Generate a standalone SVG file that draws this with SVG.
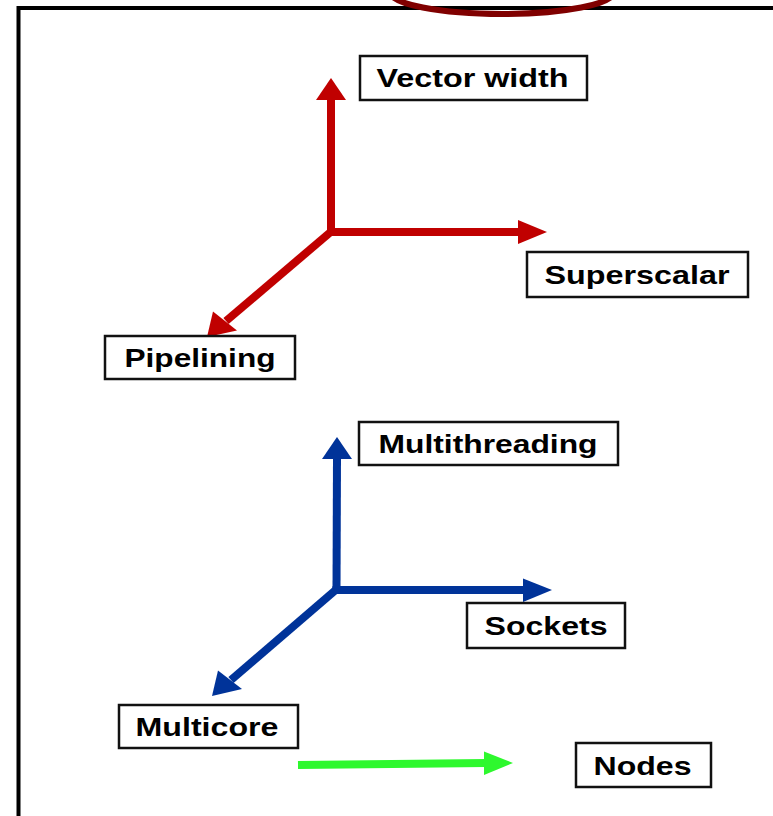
<svg xmlns="http://www.w3.org/2000/svg" width="773" height="816" viewBox="0 0 773 816">
  <style>
    .box { fill: #ffffff; stroke: #111111; stroke-width: 2.5; }
    .label { font-family: "Liberation Sans", Arial, Helvetica, sans-serif; font-weight: bold; font-size: 26px; fill: #000000; text-anchor: middle; }
    .red { stroke: #c00000; fill: none; stroke-width: 8; }
    .redhead { fill: #c00000; }
    .blue { stroke: #003399; fill: none; stroke-width: 8; }
    .bluehead { fill: #003399; }
    .green { stroke: #2ef82e; fill: none; stroke-width: 8; }
    .greenhead { fill: #2ef82e; }
  </style>

  <rect width="773" height="816" fill="#ffffff"/>

  <!-- slide frame -->
  <rect id="frame" x="18.5" y="8" width="800" height="850" fill="none" stroke="#000000" stroke-width="4"/>

  <!-- highlight ring at the top edge -->
  <ellipse id="ring" cx="502" cy="-8" rx="112" ry="22" fill="none" stroke="#800000" stroke-width="6"/>

  <g id="connectors">
    <!-- instruction-level axes -->
    <line class="red" x1="331" y1="232" x2="331" y2="99"/>
    <polygon class="redhead" points="331,78 316,100 346,100"/>
    <line class="red" x1="327" y1="232" x2="519" y2="232"/>
    <polygon class="redhead" points="547,232 518,220 518,244"/>
    <line class="red" x1="333" y1="230" x2="226" y2="321"/>
    <polygon class="redhead" points="207,337 213,311.5 237,330.5"/>

    <!-- thread-level axes -->
    <line class="blue" x1="336.5" y1="590" x2="337" y2="458"/>
    <polygon class="bluehead" points="337,437 322,459 352,459"/>
    <line class="blue" x1="332.5" y1="590" x2="524" y2="590"/>
    <polygon class="bluehead" points="552,590 523,578.5 523,602"/>
    <line class="blue" x1="338" y1="588" x2="231" y2="680"/>
    <polygon class="bluehead" points="212,696 218,670.5 242,689"/>

    <!-- cluster axis -->
    <line class="green" x1="298" y1="765" x2="486" y2="763"/>
    <polygon class="greenhead" points="513,763 484,751.5 484,775"/>
  </g>

  <g id="vector-width">
    <rect class="box" x="360" y="56" width="227" height="44"/>
    <text class="label" x="472.5" y="87.3" textLength="192" lengthAdjust="spacingAndGlyphs">Vector width</text>
  </g>

  <g id="superscalar">
    <rect class="box" x="527" y="252" width="221" height="45"/>
    <text class="label" x="637" y="283.8" textLength="185" lengthAdjust="spacingAndGlyphs">Superscalar</text>
  </g>

  <g id="pipelining">
    <rect class="box" x="105" y="336" width="190" height="43"/>
    <text class="label" x="200" y="366.8" textLength="151" lengthAdjust="spacingAndGlyphs">Pipelining</text>
  </g>

  <g id="multithreading">
    <rect class="box" x="359" y="422" width="259" height="43"/>
    <text class="label" x="488" y="452.8" textLength="219" lengthAdjust="spacingAndGlyphs">Multithreading</text>
  </g>

  <g id="sockets">
    <rect class="box" x="467" y="603" width="158" height="45"/>
    <text class="label" x="546" y="634.5" textLength="123" lengthAdjust="spacingAndGlyphs">Sockets</text>
  </g>

  <g id="multicore">
    <rect class="box" x="119" y="705" width="179" height="43"/>
    <text class="label" x="207" y="735.5" textLength="143" lengthAdjust="spacingAndGlyphs">Multicore</text>
  </g>

  <g id="nodes">
    <rect class="box" x="576" y="743" width="135" height="44"/>
    <text class="label" x="642.5" y="774.5" textLength="98" lengthAdjust="spacingAndGlyphs">Nodes</text>
  </g>
</svg>
